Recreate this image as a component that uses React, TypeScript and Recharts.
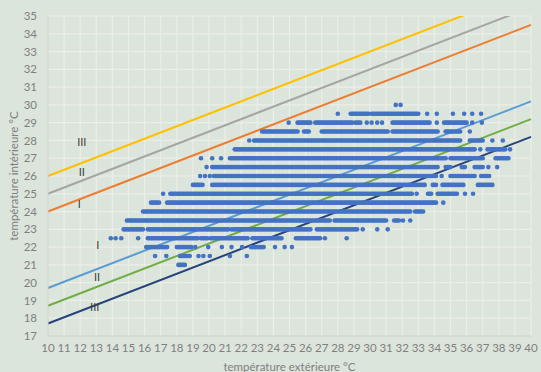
import {
  CartesianGrid,
  ComposedChart,
  Line,
  ReferenceDot,
  Scatter,
  XAxis,
  YAxis,
} from 'recharts'

// outdoor temperature at the two ends of the comfort lines
const lineX = [10, 40]
const upperIII = [26.0, 36.5]
const upperII = [25.0, 35.5]
const upperI = [24.0, 34.5]
const lowerI = [19.7, 30.2]
const lowerII = [18.7, 29.2]
const lowerIII = [17.7, 28.2]

const xTicks = [
  10, 11, 12, 13, 14, 15, 16, 17, 18, 19, 20, 21, 22, 23, 24, 25, 26, 27, 28,
  29, 30, 31, 32, 33, 34, 35, 36, 37, 38, 39, 40,
]
const yTicks = [
  17, 18, 19, 20, 21, 22, 23, 24, 25, 26, 27, 28, 29, 30, 31, 32, 33, 34, 35,
]

// measured points, one list per indoor temperature row (0.1 °C steps)
// a number is a single reading, a pair is a run of consecutive readings
type Run = number | [number, number]

const row30: Run[] = [31.6, 31.9]
const row295: Run[] = [28.0, [28.75, 29.9], [30.1, 33.0], 33.55, 34.15, 35.15, 35.85, 36.35, 36.9]
const row29: Run[] = [24.95, [25.45, 26.25], [26.6, 28.9], [29.05, 29.4], 29.8, 30.1, 30.45, 30.75, [31.4, 33.7], 34.15, [34.55, 36.0], 36.35, 36.95]
const row285: Run[] = [[23.3, 24.8], [24.9, 25.5], [25.85, 26.15], [27.0, 31.1], [31.35, 34.2], [34.65, 35.6], 36.2]
const row28: Run[] = [22.5, [22.75, 35.6], [36.2, 36.95], 37.6, 38.25]
const row275: Run[] = [[21.6, 36.5], 36.85, [37.25, 38.4], 38.7]
const row27: Run[] = [19.5, 20.2, 20.75, [21.3, 34.65], [34.95, 36.35], [36.5, 36.95], [37.75, 38.55]]
const row265: Run[] = [19.85, [20.15, 34.2], [34.65, 34.95], [35.7, 35.9], [36.5, 36.95], 37.35, 37.9]
const row26: Run[] = [19.45, 19.75, 20.05, [20.3, 31.55], [31.75, 34.05], 34.45, [34.95, 36.5], [36.85, 37.35]]
const row255: Run[] = [[18.95, 19.6], [20.2, 33.4], [33.85, 34.05], [34.45, 35.8], [36.7, 37.6]]
const row25: Run[] = [17.15, [17.6, 17.75], [17.85, 18.95], [19.1, 32.6], 32.9, [33.55, 33.75], [34.2, 35.4], 35.9, 36.4]
const row245: Run[] = [[16.35, 16.85], [17.4, 17.75], [17.85, 34.05], 34.55]
const row24: Run[] = [[15.9, 18.0], [18.05, 32.5], [32.75, 33.25]]
const row235: Run[] = [[14.9, 27.5], [27.8, 31.0], [31.45, 31.75], 32.05, 32.5]
const row23: Run[] = [[14.7, 15.9], [16.15, 21.2], [21.4, 26.3], [26.7, 29.2], 29.55, 30.45, 31.1]
const row225: Run[] = [13.9, 14.2, 14.55, 15.6, [16.15, 19.25], [19.45, 19.85], [20.05, 22.35], [22.65, 24.5], [25.35, 26.9], 27.2, 28.55]
const row22: Run[] = [[16.05, 17.4], [18.0, 18.85], 19.15, 19.95, 20.8, 21.4, 22.05, [22.55, 23.35], 24.1, 24.7, 25.15]
const row215: Run[] = [16.65, 17.35, [18.2, 18.8], 19.35, 19.65, 20.05, 21.3, 22.35]
const row21: Run[] = [[18.05, 18.5]]

const rows: [number, Run[]][] = [
  [30, row30], [29.5, row295], [29, row29], [28.5, row285], [28, row28],
  [27.5, row275], [27, row27], [26.5, row265], [26, row26], [25.5, row255],
  [25, row25], [24.5, row245], [24, row24], [23.5, row235], [23, row23],
  [22.5, row225], [22, row22], [21.5, row215], [21, row21],
]

const measured: { x: number; y: number }[] = []
rows.forEach(([y, runs]) => {
  runs.forEach((r) => {
    if (typeof r === 'number') {
      measured.push({ x: r, y })
    } else {
      for (let k = Math.round(r[0] * 10); k <= Math.round(r[1] * 10); k++) {
        measured.push({ x: k / 10, y })
      }
    }
  })
})

const toLine = (ys: number[]) => lineX.map((x, i) => ({ x, y: ys[i] }))

const LINES = [
  { name: 'sup III', ys: upperIII, color: '#ffc000' },
  { name: 'sup II', ys: upperII, color: '#a5a5a5' },
  { name: 'sup I', ys: upperI, color: '#ed7d31' },
  { name: 'inf I', ys: lowerI, color: '#5b9bd5' },
  { name: 'inf II', ys: lowerII, color: '#70ad47' },
  { name: 'inf III', ys: lowerIII, color: '#264478' },
]

// category tags written next to the lines
const tags: [string, number, number][] = [
  ['III', 12.1, 27.9],
  ['II', 12.1, 26.2],
  ['I', 11.95, 24.4],
  ['I', 13.1, 22.1],
  ['II', 13.05, 20.3],
  ['III', 12.9, 18.6],
]

const FONT = 'Lato, "Open Sans", sans-serif'
const tickStyle = { fill: '#7f7f7f', fontSize: 11.5, fontFamily: FONT }

export default function App() {
  return (
    <div
      style={{
        position: 'absolute',
        left: 0,
        top: 0,
        width: 541,
        height: 372,
        background: '#dce5db',
        overflow: 'hidden',
      }}
    >
      <ComposedChart
        width={541}
        height={372}
        margin={{ top: 16, right: 10, left: 0, bottom: 0 }}
      >
        <CartesianGrid stroke="#eceee8" strokeWidth={1.2} />
        <XAxis
          type="number"
          dataKey="x"
          domain={[10, 40]}
          ticks={xTicks}
          interval={0}
          height={36}
          tickLine={false}
          tickSize={0}
          tickMargin={8}
          axisLine={{ stroke: '#c9cdc6' }}
          tick={tickStyle}
          label={{
            value: 'température extérieure °C',
            position: 'insideBottom',
            offset: 1,
            fill: '#7f7f7f',
            fontSize: 11.5,
            fontFamily: FONT,
          }}
        />
        <YAxis
          type="number"
          dataKey="y"
          domain={[17, 35]}
          ticks={yTicks}
          interval={0}
          allowDataOverflow
          width={48}
          tickLine={false}
          tickSize={0}
          tickMargin={11}
          axisLine={{ stroke: '#c9cdc6' }}
          tick={tickStyle}
          label={{
            value: 'température intérieure °C',
            angle: -90,
            position: 'insideLeft',
            offset: 14,
            style: { textAnchor: 'middle' },
            fill: '#7f7f7f',
            fontSize: 11.5,
            fontFamily: FONT,
          }}
        />
        <Scatter
          data={measured}
          isAnimationActive={false}
          shape={(p: any) => (
            <circle cx={p.cx} cy={p.cy} r={2.3} fill="#4472c4" />
          )}
        />
        {LINES.map((l) => (
          <Line
            key={l.name}
            data={toLine(l.ys)}
            dataKey="y"
            type="linear"
            stroke={l.color}
            strokeWidth={2}
            dot={false}
            activeDot={false}
            isAnimationActive={false}
          />
        ))}
        {tags.map(([t, x, y], i) => (
          <ReferenceDot
            key={i}
            x={x}
            y={y}
            r={0}
            fill="none"
            stroke="none"
            label={{
              value: t,
              position: 'center',
              fill: '#404040',
              fontSize: 11,
              fontFamily: FONT,
            }}
          />
        ))}
      </ComposedChart>
    </div>
  )
}
